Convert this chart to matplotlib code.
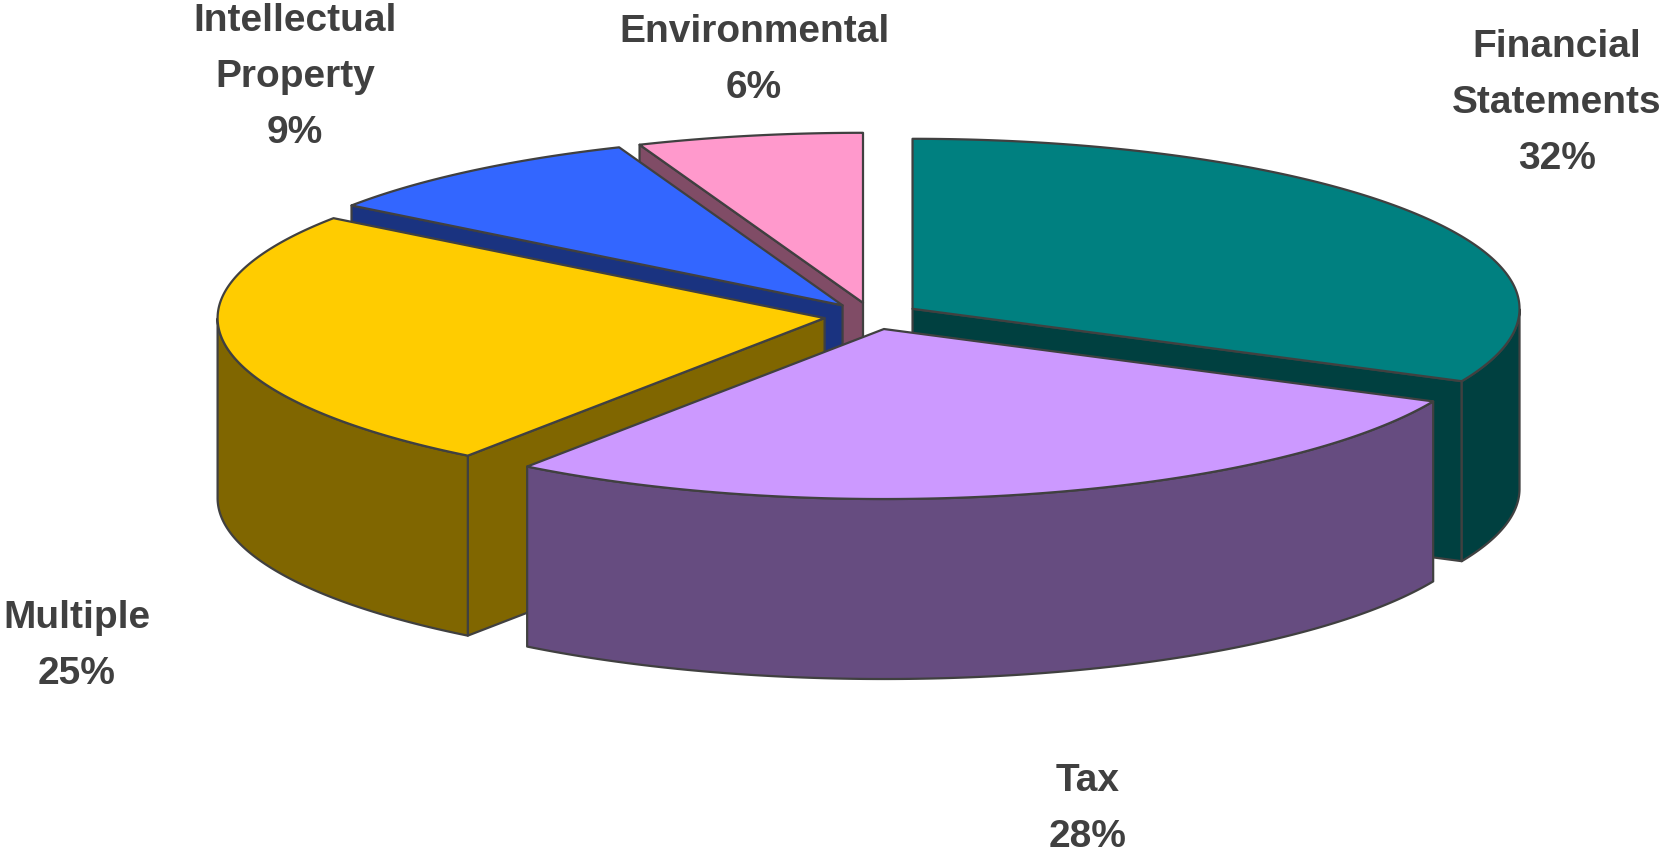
import numpy as np
import matplotlib.pyplot as plt
from matplotlib.patches import Polygon

# data
categories = ['Financial\nStatements', 'Tax', 'Multiple', 'Intellectual\nProperty', 'Environmental']
shares = [32, 28, 25, 9, 6]
top_colors = ['#008080', '#CC99FF', '#FFCC00', '#3366FF', '#FF99CC']
side_colors = ['#004040', '#664C80', '#806600', '#1A3380', '#804C66']

# label anchor positions (pixels, figure coords with y down)
label_pos = [(1557, 103), (1088, 809), (77, 646), (295, 77), (754, 60)]

# pie geometry in pixels
cx, cy = 872, 316
rx, ry = 607, 170
depth = 180
explode = 48
edge = '#404040'

fig = plt.figure(figsize=(16.7, 8.55), dpi=100)
ax = fig.add_axes([0, 0, 1, 1])
ax.set_xlim(0, 1670)
ax.set_ylim(855, 0)
ax.axis('off')


def pt(t, ox, oy, z=0.0, r=1.0):
    return (ox + cx + r * rx * np.cos(t), oy + cy - r * ry * np.sin(t) + z)


total = float(sum(shares))
start = np.pi / 2
slices = []
for i, v in enumerate(shares):
    sweep = 2 * np.pi * v / total
    a_hi = start
    a_lo = start - sweep  # clockwise
    start = a_lo
    mid = (a_hi + a_lo) / 2
    ox = explode * np.cos(mid)
    oy = -explode * (ry / rx) * np.sin(mid)
    slices.append((i, a_lo, a_hi, ox, oy))

# draw back to front
for i, a_lo, a_hi, ox, oy in sorted(slices, key=lambda s: s[4]):
    top_c = top_colors[i]
    side_c = side_colors[i]
    apex = (ox + cx, oy + cy)

    # radial walls that face the viewer
    for a, normal in ((a_lo, a_lo - np.pi / 2), (a_hi, a_hi + np.pi / 2)):
        if np.sin(normal) < -1e-6:
            p = pt(a, ox, oy)
            quad = [apex, p, (p[0], p[1] + depth), (apex[0], apex[1] + depth)]
            ax.add_patch(Polygon(quad, closed=True, fc=side_c, ec=edge, lw=1.6, joinstyle='round'))

    # outer wall (front half only)
    t = np.linspace(a_hi, a_lo, 300)
    tf = t[np.sin(t) <= 0]
    if len(tf) > 1:
        upper = [pt(a, ox, oy) for a in tf]
        lower = [pt(a, ox, oy, depth) for a in tf[::-1]]
        ax.add_patch(Polygon(upper + lower, closed=True, fc=side_c, ec=edge, lw=1.6, joinstyle='round'))

    # top face
    arc = [pt(a, ox, oy) for a in t]
    ax.add_patch(Polygon([apex] + arc, closed=True, fc=top_c, ec=edge, lw=1.6, joinstyle='round'))

# labels
for i, (x, y) in enumerate(label_pos):
    ax.text(x, y, '%s\n%d%%' % (categories[i], shares[i]), ha='center', va='center',
            fontsize=28, fontweight='bold', color='#404040',
            family=['Liberation Sans', 'DejaVu Sans'], linespacing=1.7)

fig.savefig('out.png', dpi=100)
